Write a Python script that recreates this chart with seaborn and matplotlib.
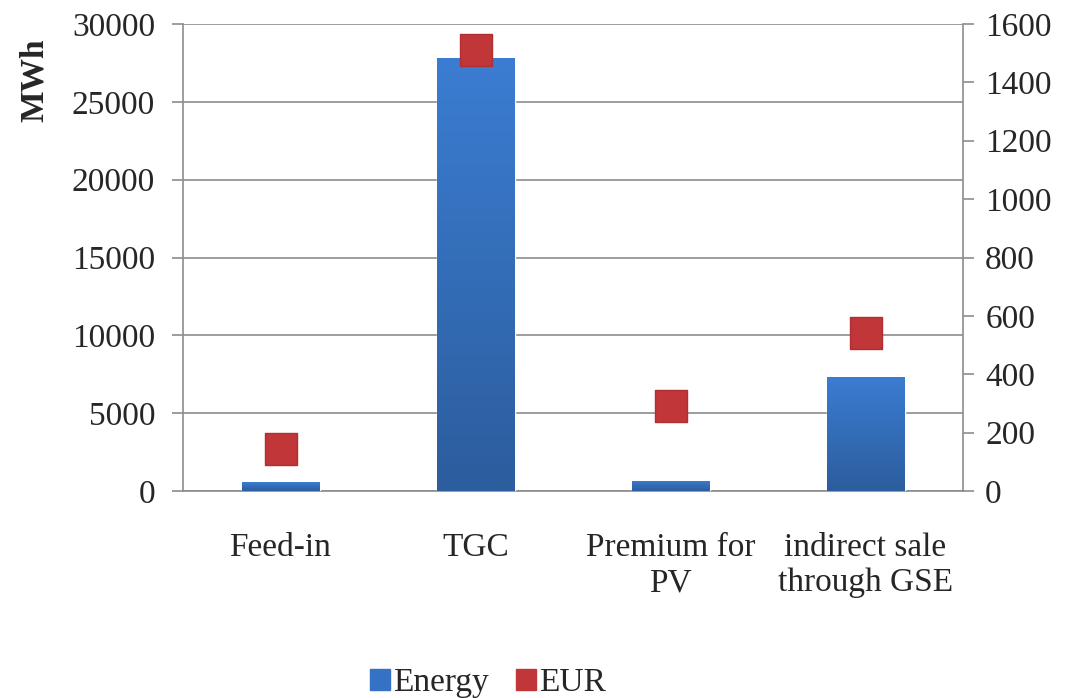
import matplotlib
matplotlib.use("Agg")
import matplotlib.pyplot as plt
import matplotlib.ticker as mticker
from matplotlib.colors import LinearSegmentedColormap
from matplotlib.patches import Patch
import numpy as np
import seaborn as sns
import pandas as pd

categories = ["Feed-in", "TGC", "Premium for\nPV", "indirect sale\nthrough GSE"]
energy_mwh = [550, 27800, 650, 7350]
eur = [145, 1510, 290, 540]

sns.set_theme(style="white")
plt.rcParams["font.family"] = ["Liberation Serif", "DejaVu Serif"]

blue = "#3572c4"
blue_top = "#3b7dd2"
blue_bottom = "#2c5d9d"
red = "#c13638"
grid_gray = "#8c8c8c"
fs = 24

df = pd.DataFrame({"category": categories, "energy": energy_mwh, "eur": eur})

fig = plt.figure(figsize=(10.65, 6.98), dpi=100)
ax = fig.add_axes([183 / 1065, 1 - 491 / 698, (963 - 183) / 1065, (491 - 24) / 698])

sns.barplot(data=df, x="category", y="energy", color=blue, width=0.4,
            saturation=1, ax=ax, zorder=3)
ax.set_ylim(0, 30000)
ax.set_xlim(-0.5, len(categories) - 0.5)

# vertical shading inside each bar
shade = LinearSegmentedColormap.from_list("shade", [blue_bottom, blue_top])
grad = np.linspace(0, 1, 256).reshape(-1, 1)
for bar in ax.patches:
    x0, y0 = bar.get_x(), bar.get_y()
    w, h = bar.get_width(), bar.get_height()
    img = ax.imshow(grad, cmap=shade, origin="lower", aspect="auto",
                    extent=[x0, x0 + w, y0, y0 + h], zorder=4)
    img.set_clip_path(bar)
ax.set_xlim(-0.5, len(categories) - 0.5)
ax.set_ylim(0, 30000)

ax.yaxis.set_major_locator(mticker.MultipleLocator(5000))
ax.yaxis.grid(True, color=grid_gray, linewidth=1.2, zorder=0)
ax.set_axisbelow(True)

# category labels centred, boundary ticks between groups
ax.xaxis.set_major_locator(mticker.FixedLocator([i - 0.5 for i in range(len(categories) + 1)]))
ax.xaxis.set_major_formatter(mticker.NullFormatter())
ax.xaxis.set_minor_locator(mticker.FixedLocator(list(range(len(categories)))))
ax.xaxis.set_minor_formatter(mticker.FixedFormatter(categories))
ax.tick_params(axis="x", which="major", length=8, width=1.2, color=grid_gray, direction="out")
ax.tick_params(axis="x", which="minor", length=0, pad=30, labelsize=fs)
ax.tick_params(axis="y", length=8, width=1.2, color=grid_gray, direction="out",
               labelsize=fs, pad=12)
ax.set_xlabel("")
ax.set_ylabel("MWh", fontsize=fs, fontweight="bold")
ax.yaxis.set_label_coords(-0.171, 0.88)

for side in ["top", "right"]:
    ax.spines[side].set_visible(False)
for side in ["left", "bottom"]:
    ax.spines[side].set_color(grid_gray)
    ax.spines[side].set_linewidth(1.2)

ax2 = ax.twinx()
sns.scatterplot(x=list(range(len(categories))), y=eur, marker="s", s=23 ** 2,
                color=red, edgecolor="#b03032", linewidth=1, ax=ax2, zorder=5,
                legend=False)
ax2.set_ylim(0, 1600)
ax2.yaxis.set_major_locator(mticker.MultipleLocator(200))
ax2.tick_params(axis="y", length=8, width=1.2, color=grid_gray, direction="out",
                labelsize=fs, pad=8)
for side in ["top", "left", "bottom"]:
    ax2.spines[side].set_visible(False)
ax2.spines["right"].set_color(grid_gray)
ax2.spines["right"].set_linewidth(1.2)

handles = [Patch(facecolor=blue, edgecolor=blue), Patch(facecolor=red, edgecolor=red)]
fig.legend(handles, ["Energy", "EUR"], loc="center", bbox_to_anchor=(488 / 1065, 1 - 683 / 698),
           ncol=2, frameon=False, fontsize=fs, handlelength=0.6, handleheight=0.6,
           handletextpad=0.1, columnspacing=0.8)

fig.savefig("out.png", dpi=100)
